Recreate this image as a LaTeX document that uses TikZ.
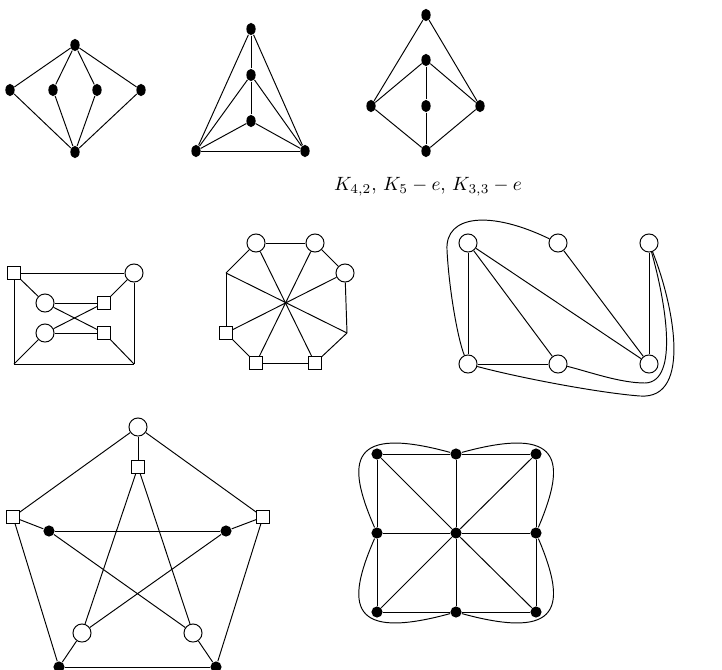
\documentclass[tikz,border=0pt]{standalone}
\usepackage{xcolor}
\usepackage{tikz}
\usetikzlibrary{shapes.geometric}

\begin{document}
\begin{tikzpicture}[
  x=0.52pt, y=-0.52pt, line width=0.5pt,
  dot/.style={circle, fill=black, inner sep=0pt, minimum size=5.8pt},
  tdot/.style={ellipse, fill=black, inner sep=0pt, minimum width=4.8pt, minimum height=6.4pt},
  ring/.style={circle, draw, fill=white, inner sep=0pt, minimum size=9.4pt},
  sq/.style={rectangle, draw, fill=white, inner sep=0pt, minimum size=6.3pt},
]
  \useasboundingbox (0,0) rectangle (722,670);

  % K_{4,2}
  \node[tdot] (atop) at (75,45) {};
  \node[tdot] (al) at (10,90) {};
  \node[tdot] (ail) at (53,90) {};
  \node[tdot] (air) at (97,90) {};
  \node[tdot] (ar) at (141,90) {};
  \node[tdot] (abot) at (75,152) {};
  \draw (atop) -- (al);
  \draw (atop) -- (ail);
  \draw (atop) -- (air);
  \draw (atop) -- (ar);
  \draw (abot) -- (al);
  \draw (abot) -- (ail);
  \draw (abot) -- (air);
  \draw (abot) -- (ar);

  % K_5 - e
  \node[tdot] (btop) at (251,29) {};
  \node[tdot] (bm1) at (251,75) {};
  \node[tdot] (bm2) at (251,121) {};
  \node[tdot] (bbl) at (196,151) {};
  \node[tdot] (bbr) at (305,151) {};
  \draw (btop) -- (bm1);
  \draw (bm1) -- (bm2);
  \draw (btop) -- (bbl);
  \draw (btop) -- (bbr);
  \draw (bm1) -- (bbl);
  \draw (bm1) -- (bbr);
  \draw (bm2) -- (bbl);
  \draw (bm2) -- (bbr);
  \draw (bbl) -- (bbr);

  % K_{3,3} - e
  \node[tdot] (ctop) at (426,15) {};
  \node[tdot] (cup) at (426,60) {};
  \node[tdot] (cmid) at (426,106) {};
  \node[tdot] (cl) at (371,106) {};
  \node[tdot] (cr) at (480,106) {};
  \node[tdot] (cbot) at (426,151) {};
  \draw (ctop) -- (cl);
  \draw (ctop) -- (cr);
  \draw (cup) -- (cl);
  \draw (cup) -- (cr);
  \draw (cup) -- (cmid);
  \draw (cmid) -- (cbot);
  \draw (cl) -- (cbot);
  \draw (cr) -- (cbot);

  \node (names) at (428,187) {$K_{4,2}$, $K_5-e$, $K_{3,3}-e$};

  % box graph
  \node[sq] (dsq) at (14,273) {};
  \node[ring] (dring) at (134,273) {};
  \node[ring] (dr1) at (45,303) {};
  \node[sq] (ds1) at (104,303) {};
  \node[ring] (dr2) at (45,333) {};
  \node[sq] (ds2) at (104,333) {};
  \coordinate (dbl) at (14,364);
  \coordinate (dbr) at (134,364);
  \draw (dsq) -- (dring);
  \draw (dsq) -- (dbl);
  \draw (dring) -- (dbr);
  \draw (dbl) -- (dbr);
  \draw (dsq) -- (dr1);
  \draw (dring) -- (ds1);
  \draw (dr1) -- (ds1);
  \draw (dr2) -- (ds2);
  \draw (dr1) -- (ds2);
  \draw (dr2) -- (ds1);
  \draw (dbl) -- (dr2);
  \draw (dbr) -- (ds2);

  % octagon
  \node[ring] (er1) at (256,243) {};
  \node[ring] (er2) at (315,243) {};
  \node[ring] (er3) at (345,273) {};
  \coordinate (ecr) at (347,333);
  \node[sq] (es3) at (315,363) {};
  \node[sq] (es2) at (256,363) {};
  \node[sq] (es1) at (226,333) {};
  \coordinate (ecl) at (226,273);
  \draw (er1) -- (er2);
  \draw (er2) -- (er3);
  \draw (er3) -- (ecr);
  \draw (ecr) -- (es3);
  \draw (es3) -- (es2);
  \draw (es2) -- (es1);
  \draw (es1) -- (ecl);
  \draw (ecl) -- (er1);
  \draw (er1) -- (es3);
  \draw (er2) -- (es2);
  \draw (er3) -- (es1);
  \draw (ecl) -- (ecr);

  % curved graph
  \node[ring] (fa) at (468,243) {};
  \node[ring] (fb) at (558,243) {};
  \node[ring] (fc) at (649,243) {};
  \node[ring] (fd) at (468,364) {};
  \node[ring] (fe) at (558,364) {};
  \node[ring] (ff) at (649,364) {};
  \draw (fa) -- (fd);
  \draw (fa) -- (fe);
  \draw (fa) -- (ff);
  \draw (fb) -- (ff);
  \draw (fc) -- (ff);
  \draw (fd) -- (fe);
  \draw (fb) .. controls (490,210) and (445,215) .. (447,250)
             .. controls (449,290) and (458,340) .. (fd);
  \draw (fc) .. controls (665,300) and (680,382) .. (645,383)
             .. controls (620,383) and (590,372) .. (fe);
  \draw (fc) .. controls (672,300) and (694,400) .. (640,396)
             .. controls (600,393) and (520,378) .. (fd);

  % Petersen
  \node[ring] (gtop) at (138,427) {};
  \node[sq] (gst) at (138,467) {};
  \node[sq] (gsl) at (13,517) {};
  \node[sq] (gsr) at (263,517) {};
  \node[dot] (gil) at (49,531) {};
  \node[dot] (gir) at (226,531) {};
  \node[ring] (grl) at (82,633) {};
  \node[ring] (grr) at (193,633) {};
  \node[dot] (gbl) at (59,667) {};
  \node[dot] (gbr) at (216,667) {};
  \draw (gtop) -- (gsl);
  \draw (gtop) -- (gsr);
  \draw (gsl) -- (gbl);
  \draw (gsr) -- (gbr);
  \draw (gbl) -- (gbr);
  \draw (gtop) -- (gst);
  \draw (gsl) -- (gil);
  \draw (gsr) -- (gir);
  \draw (gbl) -- (grl);
  \draw (gbr) -- (grr);
  \draw (gst) -- (grl);
  \draw (gst) -- (grr);
  \draw (gil) -- (gir);
  \draw (gil) -- (grr);
  \draw (gir) -- (grl);

  % grid
  \node[dot] (h11) at (377,454) {};
  \node[dot] (h12) at (456,454) {};
  \node[dot] (h13) at (536,454) {};
  \node[dot] (h21) at (377,533) {};
  \node[dot] (h22) at (456,533) {};
  \node[dot] (h23) at (536,533) {};
  \node[dot] (h31) at (377,612) {};
  \node[dot] (h32) at (456,612) {};
  \node[dot] (h33) at (536,612) {};
  \draw (h11) -- (h12) -- (h13);
  \draw (h21) -- (h22) -- (h23);
  \draw (h31) -- (h32) -- (h33);
  \draw (h11) -- (h21) -- (h31);
  \draw (h12) -- (h22) -- (h32);
  \draw (h13) -- (h23) -- (h33);
  \draw (h11) -- (h22) -- (h33);
  \draw (h13) -- (h22) -- (h31);
  \draw (h12) .. controls (350,425) and (345,460) .. (h21);
  \draw (h12) .. controls (562,425) and (567,460) .. (h23);
  \draw (h32) .. controls (350,641) and (345,606) .. (h21);
  \draw (h32) .. controls (562,641) and (567,606) .. (h23);
\end{tikzpicture}
\end{document}
